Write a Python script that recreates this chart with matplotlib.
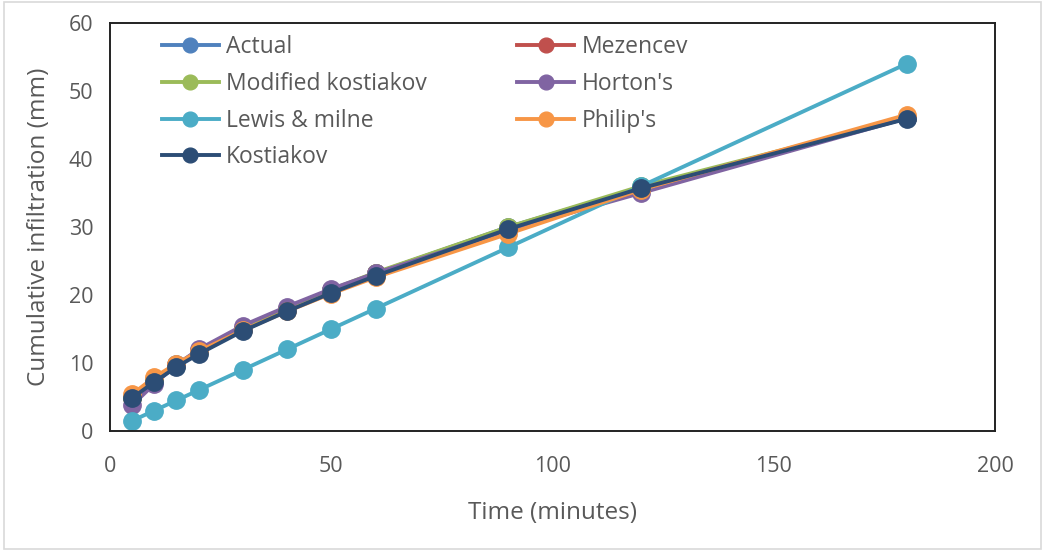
import matplotlib
matplotlib.use("Agg")
import matplotlib.pyplot as plt
from matplotlib.patches import Rectangle

time_min = [5, 10, 15, 20, 30, 40, 50, 60, 90, 120, 180]
actual = [5.0, 7.5, 9.8, 11.8, 15.0, 18.0, 20.7, 23.2, 30.0, 35.8, 46.0]
mezencev = [4.9, 7.4, 9.7, 11.7, 15.0, 18.0, 20.7, 23.2, 29.9, 35.8, 46.0]
modified_kostiakov = [4.9, 7.4, 9.6, 11.6, 15.0, 18.0, 20.8, 23.3, 30.0, 36.0, 46.0]
hortons = [3.8, 6.9, 9.7, 12.0, 15.5, 18.3, 20.9, 23.2, 29.5, 35.0, 46.0]
lewis_milne = [1.5, 3.0, 4.5, 6.0, 9.0, 12.0, 15.0, 18.0, 27.0, 36.0, 54.0]
philips = [5.4, 7.9, 9.9, 11.7, 14.8, 17.6, 20.2, 22.6, 29.0, 35.5, 46.5]
kostiakov = [4.85, 7.2, 9.4, 11.3, 14.7, 17.6, 20.3, 22.8, 29.7, 35.7, 45.9]

series = [
    ("Actual", actual, "#4F81BD"),
    ("Mezencev", mezencev, "#C0504D"),
    ("Modified kostiakov", modified_kostiakov, "#9BBB59"),
    ("Horton's", hortons, "#8064A2"),
    ("Lewis & milne", lewis_milne, "#4BACC6"),
    ("Philip's", philips, "#F79646"),
    ("Kostiakov", kostiakov, "#2C4D75"),
]

plt.rcParams['font.family'] = ['Open Sans', 'DejaVu Sans']
fig = plt.figure(figsize=(10.44, 5.51), dpi=100)
ax = fig.add_axes([110/1044, 1-431/551, (995-110)/1044, (431-23)/551])

handles = {}
for name, vals, col in series:
    h, = ax.plot(time_min, vals, color=col, lw=2.8, marker='o', ms=12.5,
                 markeredgecolor=col, label=name)
    handles[name] = h

ax.set_xlim(0, 200)
ax.set_ylim(0, 60)
ax.set_xticks([0, 50, 100, 150, 200])
ax.set_yticks(range(0, 61, 10))
ax.tick_params(length=0, labelsize=15.5, colors='#595959')
ax.tick_params(axis='x', pad=18)
ax.tick_params(axis='y', pad=12)
for s in ax.spines.values():
    s.set_color('#222222')
    s.set_linewidth(1.4)

ax.set_xlabel("Time (minutes)", fontsize=17.5, color='#595959', labelpad=17)
ax.set_ylabel("Cumulative infiltration (mm)", fontsize=17.5, color='#595959', labelpad=13)

order = ["Actual", "Modified kostiakov", "Lewis & milne", "Kostiakov",
         "Mezencev", "Horton's", "Philip's"]
leg = ax.legend([handles[n] for n in order], order, ncol=2, loc='upper left',
                bbox_to_anchor=(0.045, 1.0), frameon=False, fontsize=16.5,
                labelcolor='#595959', handlelength=2.5, columnspacing=3.95,
                labelspacing=0.56, handletextpad=0.3, borderaxespad=0.12,
                markerscale=0.85)

fig.patches.append(Rectangle((0.004, 0.004), 0.993, 0.993, transform=fig.transFigure,
                             fill=False, edgecolor='#D9D9D9', lw=1.2))

fig.savefig("out.png", dpi=100)
